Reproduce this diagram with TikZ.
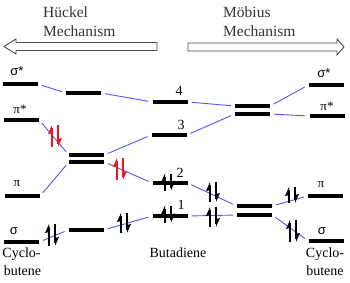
\documentclass[tikz,border=0pt]{standalone}
\usepackage{fontspec}
\setmainfont{Liberation Serif}
\newfontfamily\lblsans{Liberation Sans}
\definecolor{conn}{RGB}{85,85,245}
\definecolor{ered}{RGB}{240,20,30}
\newcommand\epair[4]{%
  \begin{scope}[shift={(#1,#2)}]
    \draw[#4, line width=1.1pt] (-3,#3/2) -- (-3,-#3/2+3);
    \fill[#4] (-3,-#3/2) -- (-7,-#3/2+9) -- (-3,-#3/2+8) -- cycle;
    \draw[#4, line width=1.1pt] (3,-#3/2) -- (3,#3/2-3);
    \fill[#4] (3,#3/2) -- (7,#3/2-9) -- (3,#3/2-8) -- cycle;
  \end{scope}}
\begin{document}
\begin{tikzpicture}[x=1pt,y=-1pt,
  lvl/.style={fill=black, draw=none, minimum width=35pt, minimum height=4pt, inner sep=0pt},
  cn/.style={draw=conn, line width=0.9pt, shorten <=4pt, shorten >=4pt},
  hd/.style={font=\fontsize{15.5}{18}\selectfont, text=black!80, inner sep=0pt, anchor=base west},
  gl/.style={font=\fontsize{13}{15}\selectfont, inner sep=0pt},
  nm/.style={font=\fontsize{14}{16}\selectfont, inner sep=0pt},
  sm/.style={font=\fontsize{14}{16}\selectfont, inner sep=0pt, anchor=base}]
\useasboundingbox (0,0) rectangle (350,283);
% headings
\node[hd] (huck) at (43,18) {Hückel};
\node[hd] (hmech) at (43,36.5) {Mechanism};
\node[hd] (mob) at (223,18) {Möbius};
\node[hd] (mmech) at (223,36.5) {Mechanism};
% hollow arrows
\draw[black!70, line width=0.9pt, fill=white] (157,42.5) -- (16,42.5) -- (16,39) -- (4,46.5) -- (16,54) -- (16,50.5) -- (157,50.5) -- cycle;
\draw[black!70, line width=0.9pt, fill=white] (188,43) -- (337,43) -- (337,39) -- (344,47) -- (337,55) -- (337,51) -- (188,51) -- cycle;
% levels
\node[lvl] (Lss) at (20,84) {};
\node[lvl] (Lps) at (21.5,120) {};
\node[lvl] (Lp)  at (22.5,196) {};
\node[lvl] (Ls)  at (21.5,242) {};
\node[lvl] (Ht)  at (83.5,93) {};
\node[lvl] (Hd1) at (86.5,155) {};
\node[lvl] (Hd2) at (86.5,162) {};
\node[lvl] (Hb)  at (86,230) {};
\node[lvl] (B4)  at (170,102) {};
\node[lvl] (B3)  at (169,135) {};
\node[lvl] (B2)  at (170,183) {};
\node[lvl] (B1)  at (170,216) {};
\node[lvl] (Mu1) at (252.5,106) {};
\node[lvl] (Mu2) at (252.5,114) {};
\node[lvl] (Ml1) at (254.5,206) {};
\node[lvl] (Ml2) at (254.5,215) {};
\node[lvl] (Rss) at (326,85) {};
\node[lvl] (Rps) at (327,116) {};
\node[lvl] (Rp)  at (325.5,196) {};
\node[lvl] (Rs)  at (326,241) {};
% connectors
\draw[cn] (Lss.east) -- (Ht.west);
\draw[cn] (Ht.east) -- (B4.west);
\draw[cn] (B4.east) -- (Mu1.west);
\draw[cn] (Mu1.east) -- (Rss.west);
\draw[cn] (Lps.east) -- (Hd1.west);
\draw[cn] (Lp.east) -- (Hd2.west);
\draw[cn] (Hd1.east) -- (B3.west);
\draw[cn] (Hd2.east) -- (B2.west);
\draw[cn] (Ls.east) -- (Hb.west);
\draw[cn] (Hb.east) -- (B1.west);
\draw[cn] (B3.east) -- (Mu2.west);
\draw[cn] (B2.east) -- (Ml1.west);
\draw[cn] (B1.east) -- (Ml2.west);
\draw[cn] (Mu2.east) -- (Rps.west);
\draw[cn] (Ml1.east) -- (Rp.west);
\draw[cn] (Ml2.east) -- (Rs.west);
% electrons
\epair{55}{136}{22}{ered}
\epair{120}{169}{22}{ered}
\epair{52}{235}{22}{black}
\epair{124}{223}{20}{black}
\epair{168}{182}{17}{black}
\epair{168}{214}{17}{black}
\epair{213}{192}{20}{black}
\epair{213}{217}{20}{black}
\epair{292}{195}{16}{black}
\epair{293}{231}{22}{black}
% level labels
\node[gl] (tLss) at (17,71) {\lblsans σ*};
\node[gl] (tLps) at (20,109) {π*};
\node[gl] (tLp)  at (17,184) {π};
\node[gl] (tLs)  at (14,231) {\lblsans σ};
\node[gl] (tRss) at (324,73) {\lblsans σ*};
\node[gl] (tRps) at (327,106) {π*};
\node[gl] (tRp)  at (321,185) {π};
\node[gl] (tRs)  at (322,231) {\lblsans σ};
\node[nm] (n4) at (179,91) {4};
\node[nm] (n3) at (181,125) {3};
\node[nm] (n2) at (180,173) {2};
\node[nm] (n1) at (181,205) {1};
% names
\node[sm] (cbl1) at (21.5,257) {Cyclo-};
\node[sm] (cbl2) at (22.5,275) {butene};
\node[sm] (buta) at (178,257) {Butadiene};
\node[sm] (cbr1) at (325,257) {Cyclo-};
\node[sm] (cbr2) at (325,275) {butene};
\end{tikzpicture}
\end{document}
